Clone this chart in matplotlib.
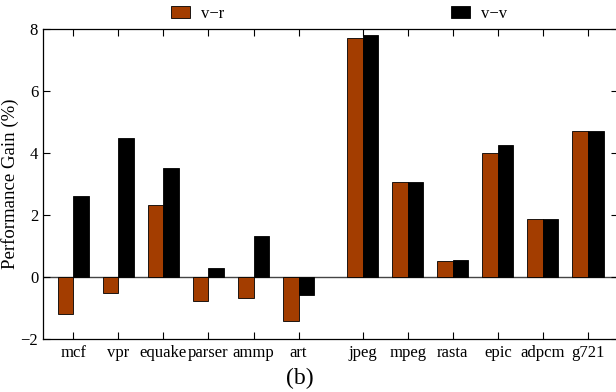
import numpy as np
import matplotlib.pyplot as plt

plt.rcParams['font.family'] = ['Liberation Serif', 'DejaVu Serif']

benchmarks = ['mcf', 'vpr', 'equake', 'parser', 'ammp', 'art',
              'jpeg', 'mpeg', 'rasta', 'epic', 'adpcm', 'g721']
v_r = [-1.2, -0.52, 2.33, -0.77, -0.67, -1.42, 7.72, 3.05, 0.52, 4.0, 1.88, 4.7]
v_v = [2.6, 4.48, 3.52, 0.3, 1.33, -0.58, 7.82, 3.08, 0.56, 4.27, 1.88, 4.7]

# two groups with a gap between art and jpeg
x = np.array([0, 1, 2, 3, 4, 5, 6.42, 7.42, 8.42, 9.42, 10.42, 11.42])
w = 0.345

fig = plt.figure(figsize=(6.16, 3.92), dpi=100)
ax = fig.add_axes([0.0698, 0.135, 0.933, 0.791])

ax.bar(x - w / 2, v_r, w, color='#a33d00', edgecolor='black', linewidth=0.6, label='v\u2212r')
ax.bar(x + w / 2, v_v, w, color='black', edgecolor='black', linewidth=0.6, label='v\u2212v')
ax.axhline(0, color='#444444', linewidth=1.0, zorder=0)

ax.set_xlim(-0.67, 12.08)
ax.set_ylim(-2, 8)
ax.set_yticks([-2, 0, 2, 4, 6, 8])
ax.set_yticklabels(['\u22122', '0', '2', '4', '6', '8'])
ax.set_xticks(x)
ax.set_xticklabels(benchmarks)
ax.tick_params(axis='both', direction='in', labelsize=12, length=5, top=True, right=True)
ax.tick_params(axis='x', pad=4)
ax.set_ylabel('Performance Gain (%)', fontsize=13.5, labelpad=1)
for s in ax.spines.values():
    s.set_linewidth(0.9)
ax.spines['right'].set_visible(False)

fig.legend(loc='center left', bbox_to_anchor=(0.278, 0.964), ncol=2, frameon=False,
           fontsize=12, columnspacing=13.6, handlelength=1.14, handleheight=0.72,
           handletextpad=0.66, borderpad=0, borderaxespad=0)
fig.text(0.487, 0.035, '(b)', ha='center', va='center', fontsize=17)

fig.savefig('out.png', dpi=100)
